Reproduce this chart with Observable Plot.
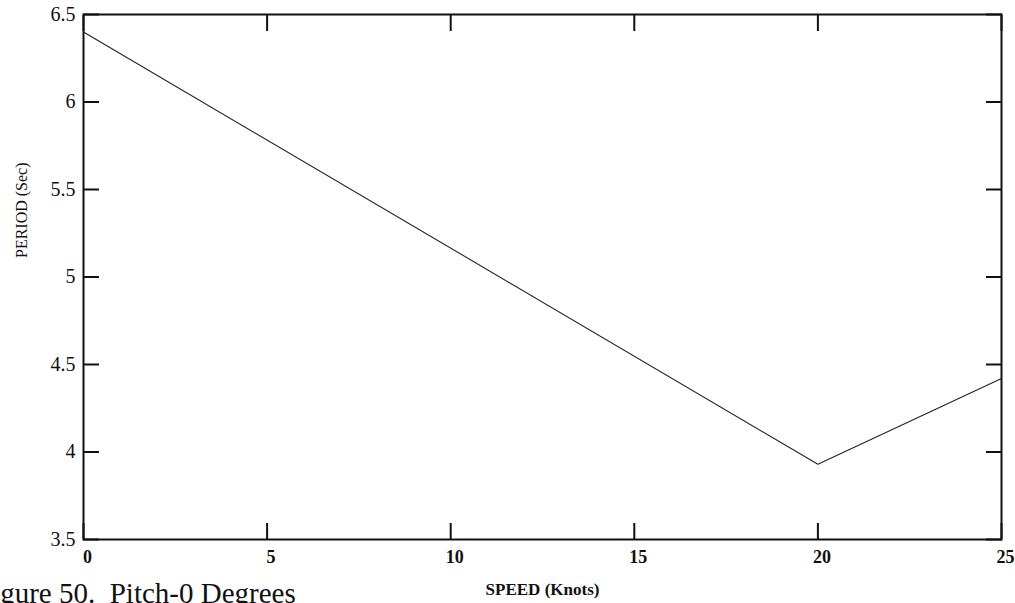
<!DOCTYPE html>
<html>
<head>
<meta charset="utf-8">
<script src="https://cdn.jsdelivr.net/npm/d3@7"></script>
<script src="https://cdn.jsdelivr.net/npm/@observablehq/plot@0.6"></script>
<style>
  html, body { margin: 0; padding: 0; background: #fff; }
  #wrap { position: relative; width: 1015px; height: 603px; overflow: hidden; background: #fff; }
  #caption { position: absolute; left: -24px; top: 579px; font-family: "Liberation Serif", serif; font-size: 29px; line-height: 1; color: #111; white-space: pre; }
</style>
</head>
<body>
<div id="wrap"><div id="chart"></div><div id="caption">Figure 50.  Pitch-0 Degrees</div></div>
<script>
const speed = [0, 20, 25];
const period = [6.40, 3.93, 4.42];
const xTicks = [0, 5, 10, 15, 20, 25];
const yTicks = [3.5, 4, 4.5, 5, 5.5, 6, 6.5];
const xLabel = "SPEED (Knots)";
const yLabel = "PERIOD (Sec)";

const data = speed.map((s, i) => ({speed: s, period: period[i]}));
const fmt = d => String(d);

const chart = Plot.plot({
  width: 1015,
  height: 603,
  marginLeft: 83,
  marginRight: 14,
  marginTop: 14,
  marginBottom: 64,
  x: {domain: [0, 25]},
  y: {domain: [3.5, 6.5]},
  style: {fontFamily: "Liberation Serif, serif", background: "white", color: "#111"},
  marks: [
    // inward ticks on all four sides
    Plot.axisX(xTicks, {anchor: "bottom", tickSize: -16, strokeWidth: 2, fill: "none", tickFormat: () => "", label: null}),
    Plot.axisX(xTicks, {anchor: "top", tickSize: -16, strokeWidth: 2, fill: "none", tickFormat: () => "", label: null}),
    Plot.axisY(yTicks, {anchor: "left", tickSize: -16, strokeWidth: 2, fill: "none", tickFormat: () => "", label: null}),
    Plot.axisY(yTicks, {anchor: "right", tickSize: -16, strokeWidth: 2, fill: "none", tickFormat: () => "", label: null}),
    // tick labels
    Plot.axisX(xTicks, {anchor: "bottom", tickSize: 0, tickPadding: 11, dx: 4, fontSize: 18, fontWeight: "bold", tickFormat: fmt, label: null}),
    Plot.axisY(yTicks, {anchor: "left", tickSize: 0, tickPadding: 8, fontSize: 20, tickFormat: fmt, label: null}),
    Plot.frame({stroke: "#111", strokeWidth: 2}),
    Plot.line(data, {x: "speed", y: "period", stroke: "#222", strokeWidth: 1.1}),
    // axis titles
    Plot.text([xLabel], {text: d => d, frameAnchor: "bottom", dy: 50, lineAnchor: "middle", fontSize: 17, fontWeight: "bold"}),
    Plot.text([yLabel], {text: d => d, frameAnchor: "left", rotate: -90, dx: -62, dy: -19, lineAnchor: "middle", fontSize: 16})
  ]
});
document.getElementById("chart").appendChild(chart);
</script>
</body>
</html>
